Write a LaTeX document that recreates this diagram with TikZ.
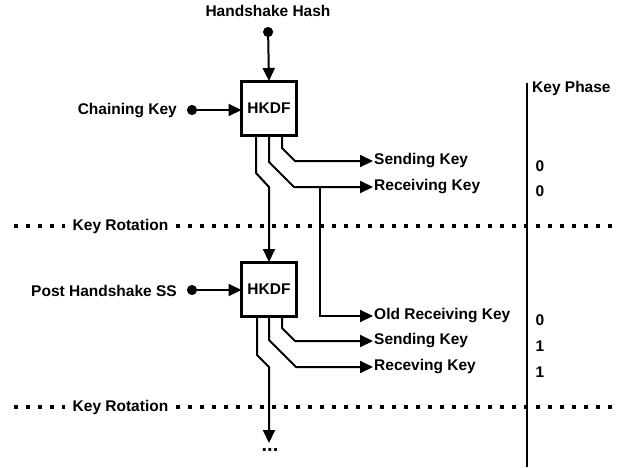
\documentclass[tikz,border=0pt]{standalone}
\usepackage{fontspec}
\setmainfont{Liberation Sans}
\usepackage{tikz}
\usetikzlibrary{arrows.meta, positioning}

\begin{document}
\begin{tikzpicture}[x=1pt, y=-1pt, node distance=181pt, on grid,
    font=\bfseries\fontsize{15.5}{18}\selectfont,
    hkdf/.style={draw, line width=3pt, outer sep=0pt, minimum width=55pt, minimum height=54pt, inner sep=0pt},
    keylbl/.style={anchor=west, inner sep=1pt},
    link/.style={line width=2pt, -{Triangle[length=13pt, width=12pt]}},
    feed/.style={link, {Circle[length=10pt]}-{Triangle[length=13pt, width=12pt]}},
    rotline/.style={line width=3.5pt, dash pattern=on 3.5pt off 8.5pt},
    phase/.style={line width=2.5pt}]
    \useasboundingbox (0,0) rectangle (627,467);

    \node[hkdf] (hkdfA) at (269,108) {HKDF};
    \node[hkdf] (hkdfB) [below=of hkdfA] {HKDF};

    \node (hhash) at (268,11) {Handshake Hash};
    \coordinate (hh) at (268,27);
    \node[anchor=east, inner sep=0pt] (chkey) at (177,111) {Chaining Key};
    \coordinate (ck) at (187,110);
    \node[anchor=east, inner sep=0pt] (phss) at (177,291) {Post Handshake SS};
    \coordinate (ps) at (187,290);

    \node[keylbl] (sendA) at (373,161) {Sending Key};
    \node[keylbl] (recvA) at (373,187) {Receiving Key};
    \node[keylbl] (oldrecv) at (373,316) {Old Receiving Key};
    \node[keylbl] (sendB) at (373,341) {Sending Key};
    \node[keylbl] (recvB) at (373,367) {Receving Key};
    \coordinate (tap) at (320,187);
    \coordinate (more) at (269,443);
    \node (dots) at (270,450) {\fontsize{20}{20}\selectfont...};

    % inputs
    \draw[feed] (hh) -- (hkdfA.north);
    \draw[feed] (ck) -- (ck -| hkdfA.west);
    \draw[feed] (ps) -- (ps -| hkdfB.west);

    % first derivation
    \draw[link] ([xshift=13pt]hkdfA.south) -- ++(0,13) -- ++(13,13) -- (sendA.west);
    \draw[link] (hkdfA.south) -- ++(0,27) -- ++(25,25) -- (recvA.west);
    \draw[link] ([xshift=-13pt]hkdfA.south) -- ++(0,38) -- ++(13,14) -- (hkdfB.north);
    \draw[link] (tap) -- (tap |- oldrecv.west) -- (oldrecv.west);

    % second derivation
    \draw[link] ([xshift=13pt]hkdfB.south) -- ++(0,12) -- ++(13,13) -- (sendB.west);
    \draw[link] (hkdfB.south) -- ++(0,24) -- ++(27,27) -- (recvB.west);
    \draw[link] ([xshift=-12pt]hkdfB.south) -- ++(0,39) -- ++(12,12) -- (more);

    % key rotations
    \node[inner xsep=8pt] (rotA) at (120.5,226) {Key Rotation};
    \node[inner xsep=8pt] (rotB) at (120.5,407) {Key Rotation};
    \draw[rotline] (14,226) -- (rotA.west);
    \draw[rotline] (rotA.east) -- (617,226);
    \draw[rotline] (14,407) -- (rotB.west);
    \draw[rotline] (rotB.east) -- (617,407);

    % key phase column
    \draw[phase] (527,83) -- (527,467);
    \node[anchor=west, inner sep=0pt] (kphase) at (532,88) {Key Phase};
    \foreach \y/\p in {166/0, 191/0, 320/0, 346/1, 372/1}
        \node (ph\y) at (540,\y) {\p};
\end{tikzpicture}
\end{document}
